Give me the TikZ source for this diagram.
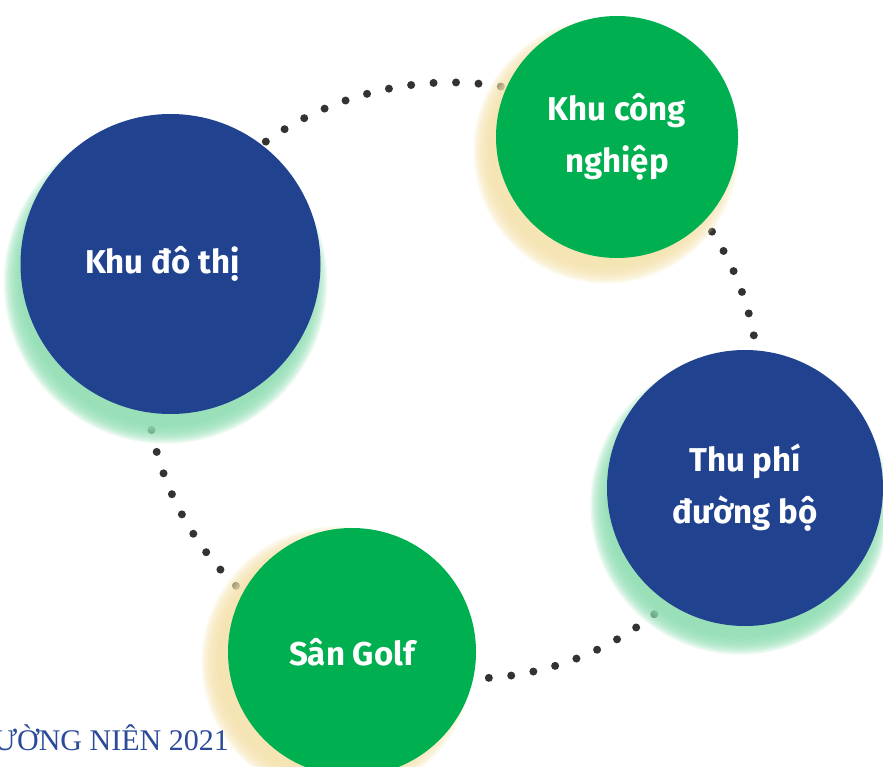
\documentclass[tikz,border=0pt]{standalone}
\usepackage{fontspec}
\setmainfont{Fira Sans}
\newfontfamily\reportfont{Liberation Serif}

\definecolor{hubblue}{HTML}{21438F}
\definecolor{hubgreen}{HTML}{00AF50}
\definecolor{glowgreen}{HTML}{8EDDB2}
\definecolor{glowsand}{HTML}{F4E1AC}
\definecolor{dotgray}{HTML}{333333}
\definecolor{reportblue}{HTML}{2B4A9A}

\pgfdeclarelayer{ring}
\pgfdeclarelayer{glow}
\pgfsetlayers{ring,glow,main}

\begin{document}
\begin{tikzpicture}[x=1pt,y=-1pt,
    hub/.style={circle,inner sep=0pt,text=white,align=center,font=\fontsize{33}{52}\selectfont\bfseries},
    bluehub/.style={hub,fill=hubblue},
    greenhub/.style={hub,fill=hubgreen},
    dotring/.style={dotgray,line width=8pt,line cap=round,dash pattern=on 0pt off 22.5pt}]

    \useasboundingbox (0,0) rectangle (883,767);

    \node[bluehub,minimum size=300pt]    (dothi)  at (170.5,264)   {Khu đô thị\hspace*{16pt}};
    \node[greenhub,minimum size=242pt]   (kcn)    at (617,137)     {Khu công\\nghiệp};
    \node[bluehub,minimum size=276pt]    (thuphi) at (745,488)     {Thu phí\\đường bộ};
    \node[greenhub,minimum size=248pt]   (golf)   at (352,652)     {Sân Golf};

    \node[anchor=base east,text=reportblue,font=\reportfont\fontsize{30}{36}\selectfont,inner sep=0pt] (report) at (229,750) {ƯỜNG NIÊN 2021};

    % soft glow under the circles
    \begin{pgfonlayer}{glow}
    \foreach \hub/\dx/\dy/\r/\col in {dothi/-5/18/150/glowgreen, kcn/-11/14/121/glowsand,
                                       thuphi/-5/17/138/glowgreen, golf/-15/10/124/glowsand}
      \foreach \k in {0,...,11}
        \fill[\col,opacity=0.18] ([shift={(\dx,\dy)}]\hub.center) circle ({\r-6+\k*1.6});
    \end{pgfonlayer}

    % dotted ring
    \begin{pgfonlayer}{ring}
    \draw[dotring] (dothi.center)  to[bend left=54] (kcn.center);
    \draw[dotring] (kcn.center)    to[bend left=36] (thuphi.center);
    \draw[dotring] (thuphi.center) to[bend left=48] (golf.center);
    \draw[dotring] (golf.center)   to[bend left=50] (dothi.center);
    \end{pgfonlayer}
\end{tikzpicture}
\end{document}
